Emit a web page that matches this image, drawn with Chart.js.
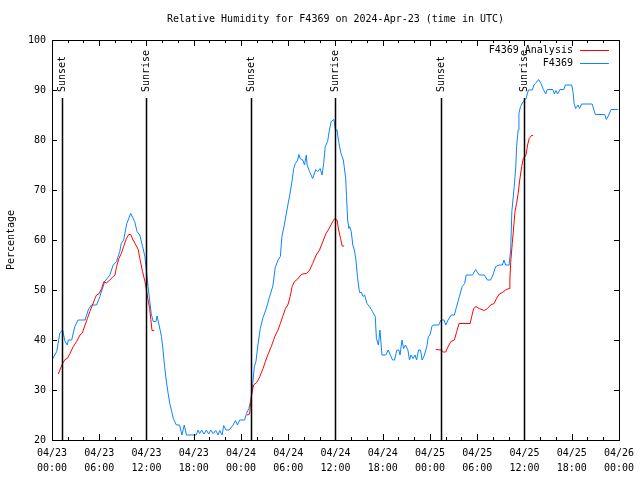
<!DOCTYPE html>
<html><head><meta charset="utf-8">
<script src="https://cdn.jsdelivr.net/npm/chart.js@4/dist/chart.umd.min.js"></script>
<style>html,body{margin:0;padding:0;background:#fff}#wrap{width:640px;height:480px}</style>
</head><body><div id="wrap"><canvas id="c" width="640" height="480"></canvas></div>
<script>
const chartTitle = 'Relative Humidity for F4369 on 2024-Apr-23 (time in UTC)';
const yTitle = 'Percentage';
const seriesNames = ['F4369 Analysis', 'F4369'];
const xTickLabels = [['04/23','00:00'],['04/23','06:00'],['04/23','12:00'],['04/23','18:00'],
  ['04/24','00:00'],['04/24','06:00'],['04/24','12:00'],['04/24','18:00'],
  ['04/25','00:00'],['04/25','06:00'],['04/25','12:00'],['04/25','18:00'],['04/26','00:00']];
const sunHours = [1.28, 12.0, 25.33, 35.95, 49.38, 59.92];
const sunLabels = ['Sunset','Sunrise','Sunset','Sunrise','Sunset','Sunrise'];

// hours since 04/23 00:00 UTC
const blueHours = [0.0,0.6,1.0,1.35,1.65,1.94,2.07,2.5,2.9,3.3,4.2,4.6,5.0,5.66,6.08,6.7,7.35,7.77,8.2,8.6,8.8,9.1,9.5,10.0,10.5,10.8,11.15,11.5,11.8,12.0,12.2,12.4,12.6,12.85,13.2,13.35,13.6,13.9,14.1,14.3,14.5,14.75,14.96,15.2,15.4,15.8,16.2,16.5,16.8,17.07,18.3,18.55,18.76,19.0,19.3,19.6,19.9,20.15,20.45,20.8,21.1,21.3,21.6,21.8,22.1,22.5,23.0,23.3,23.55,23.83,24.46,24.7,25.0,25.3,25.5,25.7,25.9,26.15,26.45,26.8,27.2,27.6,28.05,28.35,28.7,29.0,29.2,29.5,29.95,30.2,30.5,30.7,30.9,31.2,31.35,31.5,31.85,32.07,32.3,32.4,32.7,33.1,33.5,33.75,34.05,34.3,34.5,34.7,35.0,35.2,35.45,35.8,36.0,36.2,36.4,36.7,37.0,37.3,37.4,37.55,37.7,37.8,38.0,38.2,38.4,38.6,38.8,39.05,39.3,39.5,39.7,40.0,40.3,40.7,41.05,41.2,41.45,41.65,41.9,42.4,42.7,43.05,43.25,43.5,43.8,44.05,44.2,44.45,44.65,44.9,45.2,45.4,45.6,45.85,46.1,46.3,46.55,46.8,47.0,47.3,47.6,47.8,48.0,48.25,48.4,49.1,49.4,49.8,50.0,50.3,50.7,51.1,51.35,51.7,52.1,52.4,52.6,53.4,53.8,54.25,54.9,55.3,55.7,56.0,56.35,56.8,57.2,57.4,57.6,58.05,58.25,58.4,58.7,58.9,59.0,59.2,59.3,59.5,59.85,60.2,60.5,61.0,61.2,61.4,61.8,62.1,62.4,62.7,62.9,63.6,63.8,64.0,64.2,64.5,65.0,65.2,66.0,66.2,66.3,66.5,66.8,67.0,67.25,68.6,69.0,70.2,70.4,70.7,71.0,71.9];
const blueValues = [36,37.7,41.4,42,39.7,39,40,40,42.7,44,44,46,47,47,48.7,51.7,53,55,55.7,57.7,59.3,60,63.3,65.3,63.7,61.7,61,58.7,56.7,53.7,50.7,48,45.3,43.7,43.7,44.8,43,40.7,38,34.7,32,29.3,27.3,25.7,24.3,23,23,21,23,21,21,22,21.3,22,21.2,22,21.2,22,21.3,21.9,21,21.9,21,22.9,22,22,23,23.9,23,24,24,25.3,26.3,28.3,31.3,34.7,35.7,39,42.3,44.5,46.2,48.5,50.8,54.5,56,56.7,60.7,63,67,69,72,74.3,75.3,76,77.1,76.3,76,75,77,75,73.7,72.3,74.1,73.7,74.3,73,75.3,78.7,79.7,81.7,83.7,84.1,82,82,79.7,77.3,76,72.3,68.7,64,62.3,62.7,61.7,59,58,56,52.5,49.5,49.5,48.7,49,47.3,46.7,45.7,44.7,40.3,39,42,37,37,38,36.7,36,36,38,38,37,40,38.3,39,38,36,37,36.3,37,36,38,38,36,37,38.7,40.7,41,42.7,43,43,44,44,43,44,45,45,46.5,48.5,50.7,51.3,53,53,54.1,53,53,52,52,53,54.7,55,55,56,55,55,58,65.7,70.7,74.7,78.7,82,85.3,86.7,87.7,88.3,90,90,91,91.3,92.1,91.3,90.1,89.2,90.1,90.1,89.2,89.9,89.2,90.1,90.1,91,91,89.3,87.3,86.3,87,86.3,87.2,87.2,85.1,85.1,84.1,85,86.1,86.1];

const redHours = [0.8,1.0,1.35,1.65,1.94,2.28,2.7,3.13,3.55,3.85,4.2,4.5,4.8,5.15,5.45,5.66,6.0,6.3,6.6,6.9,7.35,7.77,8.0,8.2,8.5,8.8,9.1,9.45,9.75,10.0,10.3,10.65,10.95,11.15,11.5,11.8,12.0,12.2,12.4,12.55,12.7,12.97,
  18.0,
  24.75,25.1,25.3,25.6,26.0,26.4,26.8,27.1,27.4,27.85,28.3,28.7,29.0,29.3,29.65,29.95,30.25,30.5,30.8,31.2,31.6,31.85,32.3,32.7,33.1,33.55,33.97,34.4,34.8,35.2,35.65,35.9,36.2,36.4,36.65,36.85,37.1,
  43.0,
  48.75,49.4,49.7,50.0,50.25,50.65,51.1,51.4,51.7,53.1,53.3,53.55,53.85,54.25,54.9,55.3,55.7,56.15,56.35,56.8,57.2,57.6,58.05,58.15,58.25,58.45,58.6,58.8,59.0,59.2,59.4,59.65,59.85,60.2,60.4,60.6,60.9,61.1];
const redValues = [33.2,34,35.3,36.1,36.3,37.3,38.7,39.7,41,41.4,43,44.3,45.7,47,48.3,49,49.3,50.3,51.7,51.4,52,52.7,53,54.7,56.3,57.3,58.7,60.3,61.1,61.1,60,59,58.1,56.3,53.7,51.7,50,48,46.3,44.1,41.9,41.9,
  null,
  25,25.2,28.7,31,31.5,32.7,34.3,35.7,37,38.7,40.7,42,43.3,44.7,46.3,47,48.7,50.7,51.7,52.2,53,53.2,53.3,53.9,55.3,57,58,59.7,61.3,62.3,63.7,64.3,64,62,60.3,58.8,58.8,
  null,
  38.1,38,37.6,37.6,38.5,39.7,40,41.7,43.3,43.3,44.7,46.3,46.7,46.3,45.9,46.3,47,47.3,48,49.2,49.5,50,50.3,52,55.5,59.3,62,65.7,67.3,69.3,72,74.7,76.3,77,79,80.3,80.9,80.9];

const FONT = 'DejaVu Sans Mono';
const redColor = '#ff0000';
const blueColor = '#0a84ff';

const toPts = (xs, ys) => xs.map((x, i) => ({x: x, y: ys[i]}));

const decor = {
  id: 'decor',
  afterDatasetsDraw(chart) {
    const ctx = chart.ctx;
    const a = chart.chartArea;
    const xs = chart.scales.x, ys = chart.scales.y;
    ctx.save();
    ctx.strokeStyle = '#000';
    ctx.lineWidth = 1;
    // border
    ctx.strokeRect(Math.round(a.left) + 0.5, Math.round(a.top) + 0.5, Math.round(a.right - a.left), Math.round(a.bottom - a.top));
    // inward ticks
    ctx.beginPath();
    for (let v = 20; v <= 100; v += 10) {
      const y = Math.round(ys.getPixelForValue(v)) + 0.5;
      ctx.moveTo(a.left, y); ctx.lineTo(a.left + 5, y);
      ctx.moveTo(a.right, y); ctx.lineTo(a.right - 5, y);
    }
    for (let h = 0; h <= 72; h += 2) {
      const x = Math.round(xs.getPixelForValue(h)) + 0.5;
      const len = (h % 6 === 0) ? 6 : 3;
      ctx.moveTo(x, a.bottom); ctx.lineTo(x, a.bottom - len);
      ctx.moveTo(x, a.top); ctx.lineTo(x, a.top + len);
    }
    ctx.stroke();
    // sun lines
    ctx.lineWidth = 1.5;
    ctx.font = '10px "' + FONT + '"';
    sunHours.forEach((h, i) => {
      const x = Math.round(xs.getPixelForValue(h)) + 0.5;
      ctx.beginPath();
      ctx.moveTo(x, a.top + 58); ctx.lineTo(x, a.bottom);
      ctx.stroke();
      ctx.save();
      ctx.translate(x, a.top + 52);
      ctx.rotate(-Math.PI / 2);
      ctx.fillStyle = '#000';
      ctx.textAlign = 'left';
      ctx.textBaseline = 'middle';
      ctx.fillText(sunLabels[i], 0, 0);
      ctx.restore();
    });
    // legend
    const legendColors = [redColor, blueColor];
    ctx.lineWidth = 1;
    seriesNames.forEach((n, i) => {
      const y = a.top + 10 + i * 12.5;
      ctx.fillStyle = '#000';
      ctx.textAlign = 'right';
      ctx.textBaseline = 'middle';
      ctx.fillText(n, a.right - 46, y + 0.5);
      ctx.strokeStyle = legendColors[i];
      ctx.beginPath();
      ctx.moveTo(a.right - 39, Math.round(y) + 0.5);
      ctx.lineTo(a.right - 10, Math.round(y) + 0.5);
      ctx.stroke();
    });
    // title
    ctx.fillStyle = '#000';
    ctx.textAlign = 'center';
    ctx.textBaseline = 'middle';
    ctx.fillText(chartTitle, (a.left + a.right) / 2, 19);
    ctx.restore();
  }
};

new Chart(document.getElementById('c'), {
  type: 'line',
  data: {
    datasets: [
      {label: seriesNames[0], data: toPts(redHours, redValues), borderColor: redColor, borderWidth: 1, pointRadius: 0, tension: 0, spanGaps: false, fill: false},
      {label: seriesNames[1], data: toPts(blueHours, blueValues), borderColor: blueColor, borderWidth: 1, pointRadius: 0, tension: 0, spanGaps: false, fill: false}
    ]
  },
  options: {
    responsive: false,
    animation: false,
    devicePixelRatio: 1,
    layout: {padding: {top: 40, right: 20, left: 0, bottom: 0}},
    plugins: {legend: {display: false}, title: {display: false}, tooltip: {enabled: false}},
    scales: {
      x: {
        type: 'linear', min: 0, max: 72,
        grid: {display: false, drawTicks: false},
        border: {display: false},
        afterFit: s => { s.height = 40; },
        ticks: {
          stepSize: 6, autoSkip: false, maxRotation: 0, minRotation: 0, padding: 6,
          color: '#000', font: {family: FONT, size: 10, lineHeight: 1.5},
          callback: v => xTickLabels[Math.round(v / 6)]
        }
      },
      y: {
        min: 20, max: 100,
        grid: {display: false, drawTicks: false},
        border: {display: false},
        afterFit: s => { s.width = 52; },
        title: {display: true, text: yTitle, color: '#000', font: {family: FONT, size: 10}, padding: {top: 5, bottom: 0}},
        ticks: {stepSize: 10, padding: 6, color: '#000', font: {family: FONT, size: 10}}
      }
    }
  },
  plugins: [decor]
});
</script>
</body></html>
